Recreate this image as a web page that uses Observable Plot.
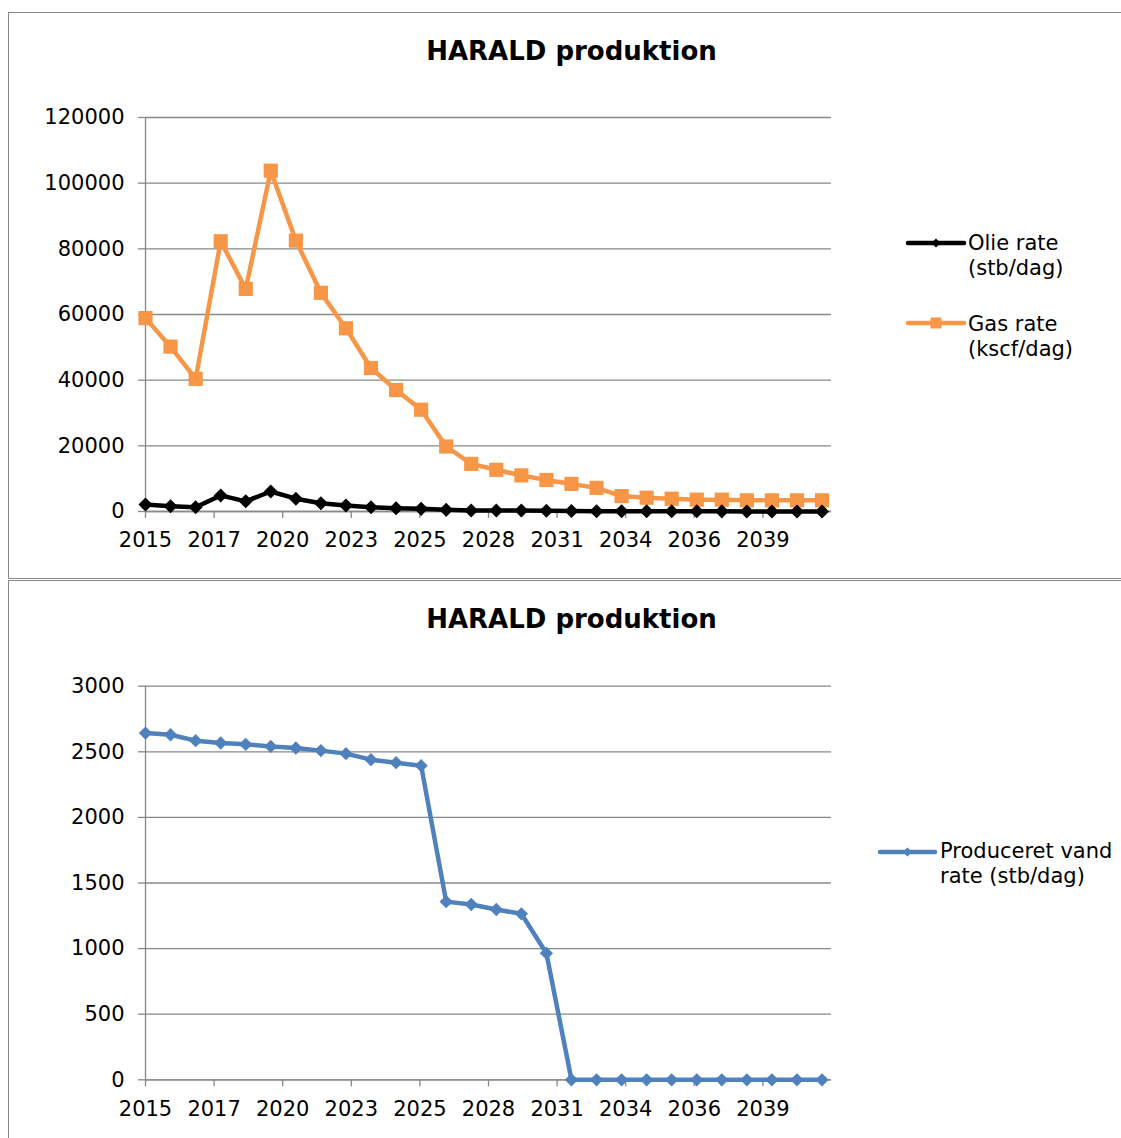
<!DOCTYPE html>
<html>
<head>
<meta charset="utf-8">
<script src="https://cdn.jsdelivr.net/npm/d3@7"></script>
<script src="https://cdn.jsdelivr.net/npm/@observablehq/plot@0.6"></script>
<style>
  html, body { margin: 0; padding: 0; background: #fff; width: 1121px; height: 1138px; overflow: hidden; }
  #root { position: relative; width: 1121px; height: 1138px; overflow: hidden; font-family: "DejaVu Sans", Verdana, sans-serif; color: #000; }
  .panel { position: absolute; left: 8px; width: 1300px; border: 1.5px solid #888; box-sizing: border-box; }
  .title { position: absolute; left: 0; width: 1143px; text-align: center; font-weight: bold; font-size: 26px; line-height: 30px; white-space: nowrap; }
  .chart { position: absolute; left: 9px; }
  .legtext { position: absolute; font-size: 21px; line-height: 25px; white-space: nowrap; }
  .swatch { position: absolute; overflow: visible; }
</style>
</head>
<body>
<div id="root"></div>
<script>
// ---------- data ----------
const chartTitle = "HARALD produktion";
const years = [2015, 2016, 2017, 2018, 2019, 2020, 2021, 2022, 2023, 2024, 2025, 2026, 2027, 2028,
               2029, 2030, 2031, 2032, 2033, 2034, 2035, 2036, 2037, 2038, 2039, 2040, 2041, 2042];
const olieRate = [2100, 1600, 1300, 4900, 3100, 6100, 3900, 2500, 1800, 1300, 1000, 800, 500, 300,
                  300, 300, 200, 150, 100, 100, 80, 60, 50, 40, 30, 20, 20, 10];
const gasRate = [58900, 50200, 40400, 82300, 67800, 103800, 82500, 66600, 55800, 43700, 37000, 31000, 19800, 14500,
                 12700, 11000, 9600, 8400, 7200, 4700, 4200, 3900, 3600, 3600, 3400, 3400, 3400, 3400];
const vandRate = [2643, 2630, 2585, 2567, 2557, 2541, 2529, 2509, 2486, 2440, 2417, 2394, 1358, 1336,
                  1298, 1265, 965, 0, 0, 0, 0, 0, 0, 0, 0, 0, 0, 0];
const xTickLabels = ["2015", "2017", "2020", "2023", "2025", "2028", "2031", "2034", "2036", "2039"];
const yTicksTop = [0, 20000, 40000, 60000, 80000, 100000, 120000];
const yTicksBottom = [0, 500, 1000, 1500, 2000, 2500, 3000];
const olieName = ["Olie rate", "(stb/dag)"];
const gasName = ["Gas rate", "(kscf/dag)"];
const vandName = ["Produceret vand", "rate (stb/dag)"];

const colOlie = "#000000", colGas = "#F79646", colVand = "#4F81BD";
const gridCol = "#888888";

// ---------- derived ----------
const start = new Date(Date.UTC(years[0], 0, 1));
const xEnd = d3.utcDay.offset(start, 1000 * xTickLabels.length);
const tickDates = xTickLabels.map((_, i) => d3.utcDay.offset(start, 1000 * i));
const xFmt = d => { const k = tickDates.findIndex(t => +t === +d); return k >= 0 ? xTickLabels[k] : ""; };
const rows = years.map((yr, i) => ({ date: new Date(Date.UTC(yr, 0, 1)), olie: olieRate[i], gas: gasRate[i], vand: vandRate[i] }));

const root = document.getElementById("root");

function panel(top, height) {
  const p = document.createElement("div");
  p.className = "panel";
  p.style.top = top + "px";
  p.style.height = height + "px";
  root.appendChild(p);
}
function title(baseline) {
  const t = document.createElement("div");
  t.className = "title";
  t.textContent = chartTitle;
  t.style.top = (baseline - 24) + "px";
  root.appendChild(t);
}
function legend(x0, x1, yLine, textLeft, baseline, lines, color, kind) {
  const w = x1 - x0 + 6, h = 20;
  const ns = "http://www.w3.org/2000/svg";
  const s = document.createElementNS(ns, "svg");
  s.setAttribute("class", "swatch");
  s.setAttribute("width", w); s.setAttribute("height", h);
  s.style.left = (x0 - 3) + "px"; s.style.top = (yLine - h / 2) + "px";
  const l = document.createElementNS(ns, "line");
  l.setAttribute("x1", 3); l.setAttribute("x2", w - 3); l.setAttribute("y1", h / 2); l.setAttribute("y2", h / 2);
  l.setAttribute("stroke", color); l.setAttribute("stroke-width", 4.5); l.setAttribute("stroke-linecap", "round");
  s.appendChild(l);
  const m = document.createElementNS(ns, "rect");
  const sz = kind === "square" ? 11 : 6.5;
  m.setAttribute("x", w / 2 - sz / 2); m.setAttribute("y", h / 2 - sz / 2);
  m.setAttribute("width", sz); m.setAttribute("height", sz); m.setAttribute("fill", color);
  if (kind !== "square") m.setAttribute("transform", `rotate(45 ${w / 2} ${h / 2})`);
  s.appendChild(m);
  root.appendChild(s);
  const t = document.createElement("div");
  t.className = "legtext";
  t.style.left = textLeft + "px";
  t.style.top = (baseline - 19.8) + "px";
  t.innerHTML = lines.join("<br>");
  root.appendChild(t);
}

function chart(opts) {
  const { top, height, marginTop, marginBottom, yDomain, yTicks, series } = opts;
  const marks = [
    Plot.gridY(yTicks, { stroke: gridCol, strokeOpacity: 1, strokeWidth: 1.3 }),
    Plot.ruleY([0], { stroke: gridCol, strokeWidth: 1.3 }),
    Plot.ruleX([start], { stroke: gridCol, strokeWidth: 1.3 }),
    Plot.axisY(yTicks, { tickSize: 7, tickPadding: 14, stroke: gridCol, strokeWidth: 1.3, fill: "#000", label: null, tickFormat: d => String(d) }),
    Plot.axisX(tickDates, { tickSize: 7, tickPadding: 14, stroke: gridCol, strokeWidth: 1.3, fill: "#000", label: null, tickFormat: xFmt })
  ];
  for (const s of series) {
    marks.push(Plot.line(rows, { x: "date", y: s.key, stroke: s.color, strokeWidth: 4.5, strokeLinejoin: "round", strokeLinecap: "round" }));
    if (s.kind === "square") {
      marks.push(Plot.dot(rows, { x: "date", y: s.key, symbol: "square", r: 8, fill: s.color, stroke: "none" }));
    } else {
      marks.push(Plot.dot(rows, { x: "date", y: s.key, symbol: "square", rotate: 45, r: s.r || 5.3, fill: s.color, stroke: "none" }));
    }
  }
  const svg = Plot.plot({
    width: 860, height,
    marginLeft: 136, marginRight: 38, marginTop, marginBottom,
    style: { fontFamily: "'DejaVu Sans', Verdana, sans-serif", fontSize: "21px", color: "#000", background: "transparent", overflow: "visible" },
    x: { type: "utc", domain: [start, xEnd] },
    y: { domain: yDomain },
    marks
  });
  const wrap = document.createElement("div");
  wrap.className = "chart";
  wrap.style.top = top + "px";
  wrap.appendChild(svg);
  root.appendChild(wrap);
}

// ---------- top panel ----------
panel(12, 567);
title(60);
chart({ top: 14, height: 560, marginTop: 103, marginBottom: 63, yDomain: [0, 120000], yTicks: yTicksTop,
  series: [
    { key: "gas", color: colGas, kind: "square" },
    { key: "olie", color: colOlie, kind: "diamond", r: 5.6 }
  ] });
legend(908, 964, 243.3, 968, 250.7, olieName, colOlie, "diamond");
legend(908, 964, 323.3, 968, 331.7, gasName, colGas, "square");

// ---------- bottom panel ----------
panel(579.5, 600);
title(628);
chart({ top: 581, height: 557, marginTop: 104.7, marginBottom: 58.7, yDomain: [0, 3000], yTicks: yTicksBottom,
  series: [ { key: "vand", color: colVand, kind: "diamond", r: 5.3 } ] });
legend(880, 935, 851.7, 940, 858.3, vandName, colVand, "diamond");
</script>
</body>
</html>
